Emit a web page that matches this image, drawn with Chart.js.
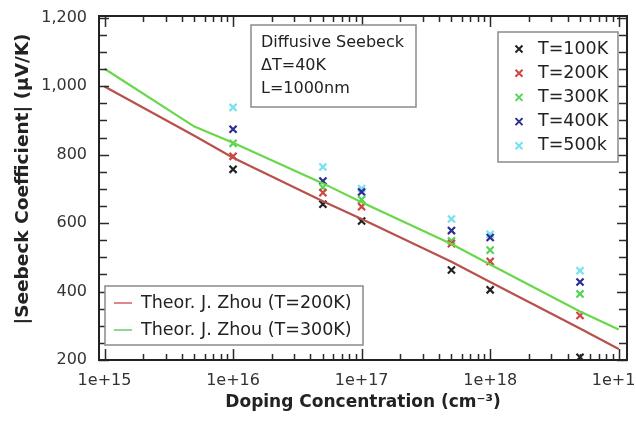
<!DOCTYPE html>
<html><head><meta charset="utf-8">
<script src="https://cdn.jsdelivr.net/npm/chart.js@4.4.0/dist/chart.umd.min.js"></script>
<style>html,body{margin:0;padding:0;background:#fff;}#wrap{width:636px;height:421px;}</style>
</head><body><div id="wrap"><canvas id="c" width="636" height="421"></canvas></div>
<script>
// ---- data ----
const concentrations = [1e16, 5e16, 1e17, 5e17, 1e18, 5e18];
const s100K = [757, 655, 606, 463, 405, 208];
const s200K = [795, 689, 648, 540, 488, 330];
const s300K = [833, 704, 669, 548, 521, 393];
const s400K = [874, 723, 691, 578, 558, 428];
const s500K = [938, 764, 701, 612, 567, 461];
const theoryConc = [1e15, 5e15, 1e16, 5e16, 1e17, 5e17, 1e18, 5e18, 1e19];
const theory200K = [999, 855, 791, 664, 612, 487, 428, 292, 232];
const theory300K = [1051, 882, 835, 716, 661, 539, 479, 342, 289];
const seriesLabels = ['T=100K', 'T=200K', 'T=300K', 'T=400K', 'T=500k'];
const theoryLabels = ['Theor. J. Zhou (T=200K)', 'Theor. J. Zhou (T=300K)'];
const noteLines = ['Diffusive Seebeck', '\u0394T=40K', 'L=1000nm'];
const xTickValues = [1e15, 1e16, 1e17, 1e18, 1e19];
const xTickLabels = ['1e+15', '1e+16', '1e+17', '1e+18', '1e+19'];
const yTickValues = [200, 400, 600, 800, 1000, 1200];
const xTitle = 'Doping Concentration (cm\u207B\u00B3)';
const yTitle = '|Seebeck Coefficient| (\u00B5V/K)';

// ---- styles ----
const FONT = "'DejaVu Sans', Verdana, sans-serif";
const markerColors = ['#222222', '#cf4540', '#55d455', '#2c2c92', '#74e3ef'];
const lineColors = ['#b8504b', '#68d84a'];
const legendLineColors = ['#e0868a', '#8fd88f'];

const pts = (xs, ys) => xs.map((x, i) => ({x: x, y: ys[i]}));
const seriesValues = [s100K, s200K, s300K, s400K, s500K];

const datasets = [];
datasets.push({type: 'line', label: theoryLabels[0], data: pts(theoryConc, theory200K), borderColor: lineColors[0], borderWidth: 2.2, pointRadius: 0, tension: 0, fill: false});
datasets.push({type: 'line', label: theoryLabels[1], data: pts(theoryConc, theory300K), borderColor: lineColors[1], borderWidth: 2.2, pointRadius: 0, tension: 0, fill: false});
seriesValues.forEach((vals, i) => {
  datasets.push({type: 'scatter', label: seriesLabels[i], data: pts(concentrations, vals),
    pointStyle: 'crossRot', pointRadius: 5, pointBorderWidth: 2.2, borderColor: markerColors[i], backgroundColor: markerColors[i]});
});

function drawCross(ctx, x, y, r, color) {
  ctx.save(); ctx.strokeStyle = color; ctx.lineWidth = 2;
  ctx.beginPath(); ctx.moveTo(x - r, y - r); ctx.lineTo(x + r, y + r);
  ctx.moveTo(x + r, y - r); ctx.lineTo(x - r, y + r); ctx.stroke(); ctx.restore();
}

const decorPlugin = {
  id: 'decor',
  afterDraw(chart) {
    const ctx = chart.ctx, a = chart.chartArea;
    const xs = chart.scales.x, ys = chart.scales.y;
    ctx.save();
    ctx.strokeStyle = '#2a2a2a'; ctx.lineWidth = 1.5;
    ctx.beginPath();
    // x ticks (inward, bottom and top)
    for (let e = 15; e <= 19; e++) {
      for (let m = 1; m <= 9; m++) {
        const v = m * Math.pow(10, e);
        if (v < xs.min || v > xs.max) continue;
        const px = Math.round(xs.getPixelForValue(v)) + 0.5;
        const len = m === 1 ? 11 : 6;
        ctx.moveTo(px, a.bottom); ctx.lineTo(px, a.bottom - len);
        ctx.moveTo(px, a.top); ctx.lineTo(px, a.top + len);
      }
    }
    // y ticks (inward, left and right)
    for (let v = 200; v <= 1200; v += 50) {
      const py = Math.round(ys.getPixelForValue(v)) + 0.5;
      const len = v % 200 === 0 ? 10 : 8;
      ctx.moveTo(a.left, py); ctx.lineTo(a.left + len, py);
      ctx.moveTo(a.right, py); ctx.lineTo(a.right - len, py);
    }
    ctx.stroke();
    ctx.lineWidth = 2; ctx.strokeStyle = '#222';
    ctx.strokeRect(a.left, a.top, a.right - a.left, a.bottom - a.top);
    ctx.restore();

    // y-axis title
    ctx.save();
    ctx.translate(a.left - 76, (a.top + a.bottom) / 2 - 9);
    ctx.rotate(-Math.PI / 2);
    ctx.font = 'bold 18.5px ' + FONT; ctx.fillStyle = '#222';
    ctx.textAlign = 'center'; ctx.textBaseline = 'middle';
    ctx.fillText(yTitle, 0, 0);
    ctx.restore();

    // note box
    ctx.save();
    ctx.font = '16px ' + FONT; ctx.textBaseline = 'middle'; ctx.fillStyle = '#222';
    let bx = a.left + 152, by = a.top + 9, bw = 165, bh = 82;
    ctx.fillStyle = '#fff'; ctx.fillRect(bx, by, bw, bh);
    ctx.strokeStyle = '#8a8a8a'; ctx.lineWidth = 1.5; ctx.strokeRect(bx, by, bw, bh);
    ctx.fillStyle = '#222';
    noteLines.forEach((t, i) => ctx.fillText(t, bx + 10, by + 18 + i * 23));

    // series legend (top right)
    ctx.font = '17.5px ' + FONT;
    bx = a.right - 129; by = a.top + 16; bw = 120; bh = 130;
    ctx.fillStyle = '#fff'; ctx.fillRect(bx, by, bw, bh);
    ctx.strokeStyle = '#8a8a8a'; ctx.strokeRect(bx, by, bw, bh);
    seriesLabels.forEach((t, i) => {
      const cy = by + 17 + i * 24.2;
      drawCross(ctx, bx + 21, cy, 3.5, markerColors[i]);
      ctx.fillStyle = '#222'; ctx.fillText(t, bx + 40, cy);
    });

    // theory legend (bottom left)
    bx = a.left + 6; by = a.top + 270; bw = 258; bh = 59;
    ctx.fillStyle = '#fff'; ctx.fillRect(bx, by, bw, bh);
    ctx.strokeStyle = '#8a8a8a'; ctx.strokeRect(bx, by, bw, bh);
    theoryLabels.forEach((t, i) => {
      const cy = by + 17 + i * 27;
      ctx.strokeStyle = legendLineColors[i]; ctx.lineWidth = 2;
      ctx.beginPath(); ctx.moveTo(bx + 9, cy); ctx.lineTo(bx + 27, cy); ctx.stroke();
      ctx.fillStyle = '#222'; ctx.fillText(t, bx + 36, cy);
    });
    ctx.restore();
  }
};

new Chart(document.getElementById('c'), {
  data: {datasets: datasets},
  options: {
    responsive: false,
    animation: false,
    devicePixelRatio: 1,
    layout: {padding: {top: 16, right: 9, left: 0, bottom: 0}},
    plugins: {legend: {display: false}, tooltip: {enabled: false}},
    scales: {
      x: {
        type: 'logarithmic', min: 9.06e14, max: 1.16e19,
        grid: {display: false, drawTicks: false}, border: {display: false},
        afterBuildTicks: s => { s.ticks = xTickValues.map(v => ({value: v})); },
        afterFit: s => { s.height = 61; s.paddingLeft = 0; s.paddingRight = 0; },
        ticks: {autoSkip: false, maxRotation: 0, padding: 11, color: '#333',
          font: {family: FONT, size: 16},
          callback: (v, i) => xTickLabels[i]},
        title: {display: true, text: xTitle, color: '#222', font: {family: FONT, size: 17, weight: 'bold'}, padding: {top: 0, bottom: 8}}
      },
      y: {
        type: 'linear', min: 200, max: 1205,
        grid: {display: false, drawTicks: false}, border: {display: false},
        afterBuildTicks: s => { s.ticks = yTickValues.map(v => ({value: v})); },
        afterFit: s => { s.width = 99; s.paddingTop = 0; s.paddingBottom = 0; },
        ticks: {padding: 12, color: '#333', font: {family: FONT, size: 16}},
        title: {display: false}
      }
    }
  },
  plugins: [decorPlugin]
});
</script></body></html>
